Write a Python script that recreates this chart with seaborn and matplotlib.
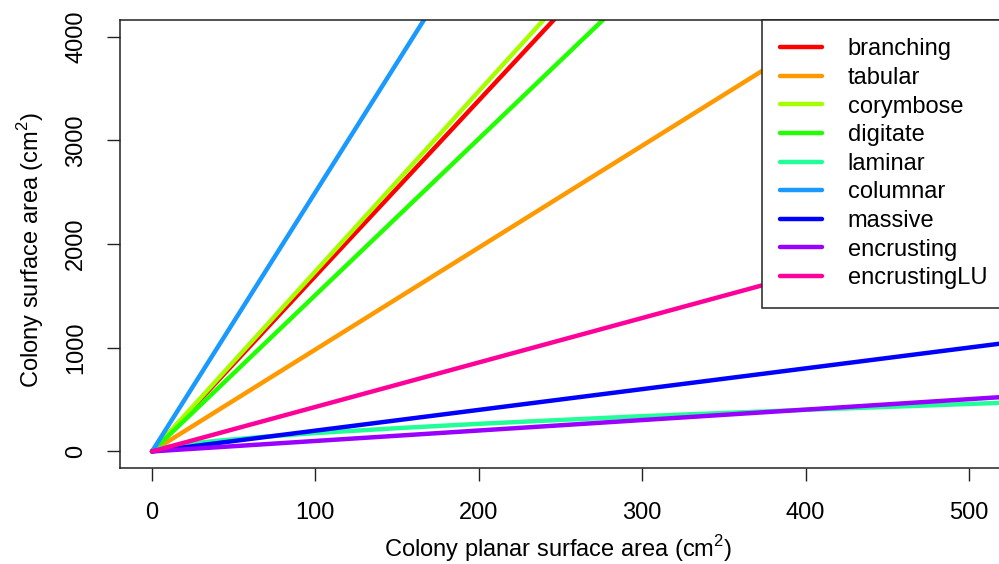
import matplotlib
matplotlib.use("Agg")
import matplotlib.pyplot as plt
import seaborn as sns
import pandas as pd

# growth forms, in legend / drawing order
forms = ["branching", "tabular", "corymbose", "digitate", "laminar",
         "columnar", "massive", "encrusting", "encrustingLU"]
colors = ["#FF0000", "#FF9900", "#A6FF00", "#22FF00", "#22FF99",
          "#1A99FF", "#0000FF", "#9900FF", "#FF0099"]

# straight lines through the origin: surface area read at planar area = 520
x_end = 520
y_end = {"branching": 8800, "tabular": 5110, "corymbose": 9030,
         "digitate": 7840, "columnar": 13000, "massive": 1041,
         "encrusting": 524, "encrustingLU": 2230}

# laminar is curved, read point by point
laminar_x = [0, 5, 10, 20, 40, 70, 100, 150, 200, 300, 400, 520]
laminar_y = [0, 30, 45, 68, 103, 143, 177, 224, 266, 340, 401, 469]

rows = []
for f in forms:
    if f == "laminar":
        for x, y in zip(laminar_x, laminar_y):
            rows.append((f, x, y))
    else:
        rows.append((f, 0, 0))
        rows.append((f, x_end, y_end[f]))
df = pd.DataFrame(rows, columns=["form", "planar", "surface"])

sns.set_style("white")
plt.rcParams["font.family"] = ["Liberation Sans", "DejaVu Sans"]
plt.rcParams["mathtext.fontset"] = "custom"
plt.rcParams["mathtext.rm"] = "Liberation Sans"
plt.rcParams["text.color"] = "black"
plt.rcParams["axes.labelcolor"] = "black"
plt.rcParams["xtick.color"] = "black"
plt.rcParams["ytick.color"] = "black"

fig = plt.figure(figsize=(9.99, 5.64), dpi=100)
W, H = 999, 564
ax = fig.add_axes([120 / W, (H - 468) / H, (1003 - 120) / W, (468 - 20) / H])

sns.lineplot(data=df, x="planar", y="surface", hue="form", hue_order=forms,
             palette=dict(zip(forms, colors)), estimator=None, sort=False,
             units="form", linewidth=3.2, ax=ax)

ax.set_xlim(-19.6, 520.8)
ax.set_ylim(-160, 4160)
ax.set_xticks([0, 100, 200, 300, 400, 500])
ax.set_yticks([0, 1000, 2000, 3000, 4000])
ax.tick_params(axis="both", labelsize=17, length=9.5, width=1.0,
               color="#222222", labelcolor="black", direction="out",
               left=True, bottom=True)
ax.tick_params(axis="x", pad=15)
ax.tick_params(axis="y", pad=14)
for lab in ax.get_yticklabels():
    lab.set_rotation(90)
    lab.set_va("center")
for s in ax.spines.values():
    s.set_color("#222222")
    s.set_linewidth(1.1)

ax.set_xlabel(r"Colony planar surface area (cm$^\mathrm{2}$)", fontsize=17)
ax.set_ylabel(r"Colony surface area (cm$^\mathrm{2}$)", fontsize=17)
ax.xaxis.label.set_va("center")
ax.yaxis.label.set_va("center")
ax.xaxis.set_label_coords((558 - 120) / 883, (468 - 549) / 448)
ax.yaxis.set_label_coords((31 - 120) / 883, (468 - 250) / 448)

old = ax.get_legend()
handles = old.legend_handles
labels = [t.get_text() for t in old.texts]
old.remove()
for h in handles:
    h.set_linewidth(3.2)
leg = ax.legend(handles, labels, loc="upper left",
                bbox_to_anchor=((762 - 120) / 883, 1.0), borderaxespad=0,
                fontsize=17, frameon=True, fancybox=False, framealpha=1,
                edgecolor="#222222", borderpad=0.78, labelspacing=0.28,
                handlelength=1.75, handletextpad=1.1)
leg.get_frame().set_linewidth(1.1)

fig.savefig("out.png", dpi=100)
